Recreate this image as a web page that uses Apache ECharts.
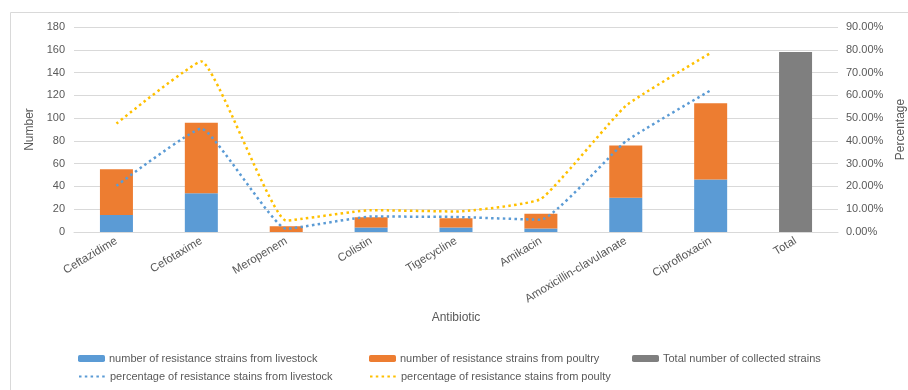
<!DOCTYPE html>
<html>
<head>
<meta charset="utf-8">
<script src="https://cdn.jsdelivr.net/npm/echarts@6/dist/echarts.min.js"></script>
<style>
  html, body { margin: 0; padding: 0; background: #ffffff; }
  #chart { width: 908px; height: 390px; }
</style>
</head>
<body>
<div id="chart"></div>
<script>
// Antibiotic resistance of livestock and poultry strains
const antibiotics = ['Ceftazidime', 'Cefotaxime', 'Meropenem', 'Colistin', 'Tigecycline',
  'Amikacin', 'Amoxicillin-clavulanate', 'Ciprofloxacin', 'Total'];
const livestockCount = [15, 34, 0, 4, 4, 3, 30, 46, '-'];
const poultryCount = [40, 62, 5, 9, 8, 13, 46, 67, '-'];
const totalStrains = ['-', '-', '-', '-', '-', '-', '-', '-', 158];
const livestockPct = [20.3, 45.4, 1.4, 6.8, 6.6, 5.4, 39.8, 62.2, '-'];
const poultryPct = [47.6, 74.9, 5.0, 9.6, 9.0, 14.5, 55.4, 78.6, '-'];
const numberTicks = { min: 0, max: 180, interval: 20 };
const pctTicks = { min: 0, max: 90, interval: 10 };

const FONT = '"Liberation Sans", Arial, sans-serif';
const TEXT = '#595959';
const GRID = '#d9d9d9';

const names = {
  live: 'number of resistance strains from livestock',
  poul: 'number of resistance strains from poultry',
  total: 'Total number of collected strains',
  livePct: 'percentage of resistance stains from livestock',
  poulPct: 'percentage of resistance stains from poulty'
};

function legendAt(name, left, top, isLine) {
  return {
    data: [isLine ? { name: name, itemStyle: { opacity: 0 } } : name],
    left: left, top: top, itemWidth: 27, itemHeight: 7, itemGap: 0,
    padding: 0, selectedMode: false,
    textStyle: { fontFamily: FONT, fontSize: 11, color: TEXT, padding: [0, 0, 0, -1] }
  };
}

const chart = echarts.init(document.getElementById('chart'));
chart.setOption({
  animation: false,
  textStyle: { fontFamily: FONT },
  graphic: [{
    type: 'rect', shape: { x: 10.5, y: 12.5, width: 1000, height: 1000 },
    style: { fill: 'none', stroke: '#d9d9d9', lineWidth: 1 }, silent: true
  }],
  grid: { left: 74, right: 70, top: 27, height: 205, outerBoundsMode: 'none' },
  legend: [
    legendAt(names.live, 78, 353, false),
    legendAt(names.poul, 369, 353, false),
    legendAt(names.total, 632, 353, false),
    legendAt(names.livePct, 78, 371, true),
    legendAt(names.poulPct, 369, 371, true)
  ],
  xAxis: {
    type: 'category', data: antibiotics,
    name: 'Antibiotic', nameLocation: 'middle', nameGap: 80,
    nameTextStyle: { fontFamily: FONT, fontSize: 12, color: TEXT },
    axisLine: { lineStyle: { color: GRID } },
    axisTick: { show: false },
    axisLabel: { rotate: 31, interval: 0, fontFamily: FONT, fontSize: 11.5, color: TEXT, margin: 8 }
  },
  yAxis: [{
    type: 'value', min: numberTicks.min, max: numberTicks.max, interval: numberTicks.interval,
    name: 'Number', nameLocation: 'middle', nameGap: 32,
    nameTextStyle: { fontFamily: FONT, fontSize: 12, color: TEXT },
    axisLine: { show: false }, axisTick: { show: false },
    axisLabel: { fontFamily: FONT, fontSize: 11, color: TEXT, margin: 9 },
    splitLine: { lineStyle: { color: GRID, width: 1 } }
  }, {
    type: 'value', min: pctTicks.min, max: pctTicks.max, interval: pctTicks.interval,
    name: 'Percentage', nameLocation: 'middle', nameGap: 45,
    nameTextStyle: { fontFamily: FONT, fontSize: 12, color: TEXT },
    axisLine: { show: false }, axisTick: { show: false },
    axisLabel: { fontFamily: FONT, fontSize: 11, color: TEXT, margin: 8,
      formatter: v => v.toFixed(2) + '%' },
    splitLine: { show: false }
  }],
  series: [
    { name: names.live, type: 'bar', stack: 'n', data: livestockCount, barWidth: 33,
      itemStyle: { color: '#5b9bd5' } },
    { name: names.poul, type: 'bar', stack: 'n', data: poultryCount, barWidth: 33,
      itemStyle: { color: '#ed7d31' } },
    { name: names.total, type: 'bar', stack: 'n', data: totalStrains, barWidth: 33,
      itemStyle: { color: '#7f7f7f' } },
    { name: names.livePct, type: 'line', yAxisIndex: 1, data: livestockPct,
      smooth: 0.12, showSymbol: false, symbol: 'none',
      lineStyle: { color: '#5b9bd5', width: 2.5, type: [2.5, 3.3] },
      itemStyle: { color: '#5b9bd5' } },
    { name: names.poulPct, type: 'line', yAxisIndex: 1, data: poultryPct,
      smooth: 0.12, showSymbol: false, symbol: 'none',
      lineStyle: { color: '#ffc000', width: 2.5, type: [2.5, 3.3] },
      itemStyle: { color: '#ffc000' } }
  ]
});
</script>
</body>
</html>
